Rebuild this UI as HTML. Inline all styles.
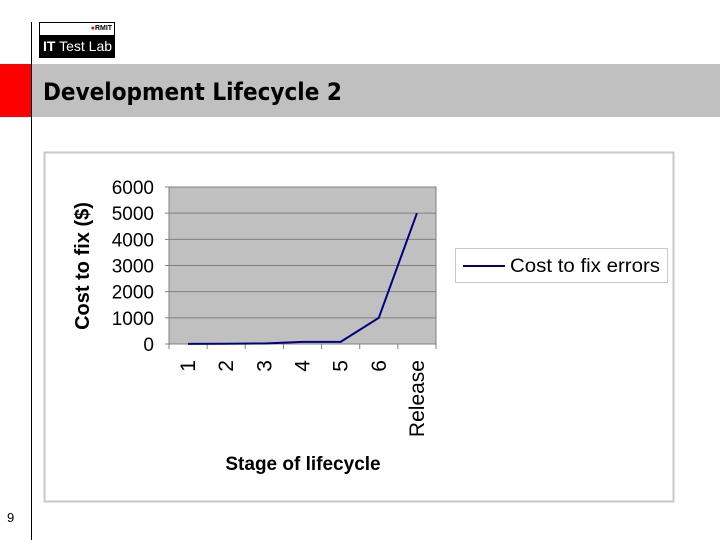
<!DOCTYPE html>
<html><head><meta charset="utf-8"><style>
body{margin:0;width:720px;height:540px;background:#fff;position:relative;overflow:hidden;font-family:"Liberation Sans",sans-serif}
div{position:absolute}
</style></head><body>
<div style="left:31px;top:22px;width:1px;height:518px;background:#000"></div>
<div style="left:39px;top:22px;width:74px;height:34px;border:1px solid #000;background:#000">
  <div style="left:0;top:0;width:74px;height:12px;background:#fff;font-size:7px;text-align:right;color:#000;font-weight:bold;line-height:12px"><span style="color:#e00">●</span>RMIT&nbsp;</div>
  <div style="left:3px;top:14px;color:#fff;font-size:14px;line-height:18px"><b>IT</b> Test Lab</div>
</div>
<div style="left:0;top:64px;width:31px;height:53px;background:#f00"></div>
<div style="left:32px;top:64px;width:688px;height:53px;background:#c0c0c0"></div>
<div style="left:43px;top:76px;font-family:'DejaVu Sans',sans-serif;font-size:24px;font-weight:bold;color:#000;line-height:32px;transform:scaleX(0.9);transform-origin:0 0">Development Lifecycle 2</div>
<div style="left:7px;top:510px;font-size:13px">9</div>
<svg width="720" height="540" style="position:absolute;left:0;top:0" id="c"></svg>
<script>
const categories=["1","2","3","4","5","6","Release"];
const values=[5,10,20,80,80,1000,5000];
const ticks=[0,1000,2000,3000,4000,5000,6000];
const NS="http://www.w3.org/2000/svg",s=document.getElementById('c');
function mk(t,a,txt){const e=document.createElementNS(NS,t);for(const k in a)e.setAttribute(k,a[k]);if(txt!=null)e.textContent=txt;s.appendChild(e);return e;}
const X0=169,X1=436,Y0=344,Y1=187,bw=(X1-X0)/categories.length;
const y=v=>Y0-(v/6000)*(Y0-Y1), x=i=>X0+bw*(i+0.5);
let e=mk('rect',{x:44.5,y:152.5,width:629,height:349,fill:'#fff',stroke:'#c8c8c8','stroke-width':2});

e=mk('rect',{x:X0,y:Y1,width:X1-X0,height:Y0-Y1,fill:'#c0c0c0',stroke:'#808080'});

ticks.forEach(t=>{
 e=mk('line',{x1:X0-4,x2:X1,y1:y(t),y2:y(t),stroke:'#808080'});
 
 e=mk('text',{x:X0-15,y:y(t)+7,'text-anchor':'end','font-size':19,fill:'#000'},t);
 
});
categories.forEach((c,i)=>{
 e=mk('line',{x1:X0+bw*i,x2:X0+bw*i,y1:Y0,y2:Y0+5,stroke:'#808080'});
 
 e=mk('text',{x:0,y:0,'text-anchor':'end','font-size':21,transform:`translate(${x(i)+7},${Y0+16}) rotate(-90)`},c);
 
});
e=mk('line',{x1:X1,x2:X1,y1:Y0,y2:Y0+5,stroke:'#808080'});

e=mk('polyline',{points:values.map((v,i)=>x(i)+','+y(v)).join(' '),fill:'none',stroke:'#000080','stroke-width':2});

e=mk('text',{x:0,y:0,'text-anchor':'middle','font-size':20,'font-weight':'bold',transform:'translate(89,266) rotate(-90)'},'Cost to fix ($)');

e=mk('text',{x:303,y:470,'text-anchor':'middle','font-size':19,'font-weight':'bold'},'Stage of lifecycle');

e=mk('rect',{x:455.5,y:248.5,width:212,height:34,fill:'#fff',stroke:'#c8c8c8'});

e=mk('line',{x1:463,x2:505,y1:266,y2:266,stroke:'#000080','stroke-width':2});

e=mk('text',{x:510,y:272,'font-size':19,textLength:150,lengthAdjust:'spacingAndGlyphs'},'Cost to fix errors');

</script>
</body></html>
